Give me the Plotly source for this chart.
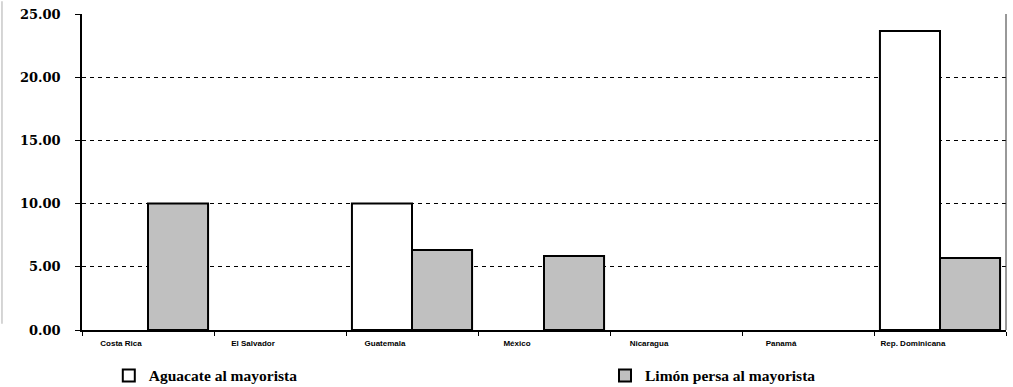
import plotly.graph_objects as go

categories = ["Costa Rica", "El Salvador", "Guatemala", "México", "Nicaragua", "Panamá", "Rep. Dominicana"]
aguacate = [None, None, 10.0, None, None, None, 23.65]
limon = [10.0, None, 6.33, 5.85, None, None, 5.7]
y_ticks = [0, 5, 10, 15, 20, 25]
y_labels = ["0.00", "5.00", "10.00", "15.00", "20.00", "25.00"]

legend_font = dict(family="Liberation Serif", size=15.5, color="black", weight="bold")

fig = go.Figure()
fig.add_trace(go.Bar(x=categories, y=aguacate, name="Aguacate al mayorista",
                     marker=dict(color="white", line=dict(color="black", width=2)),
                     legend="legend"))
fig.add_trace(go.Bar(x=categories, y=limon, name="Limón persa al mayorista",
                     marker=dict(color="#c0c0c0", line=dict(color="black", width=2)),
                     legend="legend2"))

fig.update_layout(
    width=1013, height=387,
    margin=dict(l=82, r=7, t=14, b=57, autoexpand=False),
    paper_bgcolor="white", plot_bgcolor="white",
    barmode="group", bargap=0.09, bargroupgap=0,
    font=dict(family="Liberation Serif", color="black"),
    showlegend=True,
    legend=dict(x=0.029, y=-0.145, xanchor="left", yanchor="middle",
                font=legend_font, itemwidth=30, bgcolor="rgba(0,0,0,0)"),
    legend2=dict(x=0.566, y=-0.145, xanchor="left", yanchor="middle",
                 font=legend_font, itemwidth=30, bgcolor="rgba(0,0,0,0)"),
)
fig.update_xaxes(
    showline=True, linecolor="black", linewidth=2, mirror=False,
    ticks="outside", tickson="boundaries", ticklen=4, tickcolor="black",
    tickfont=dict(family="Liberation Sans Narrow, Liberation Sans", size=8, color="black", weight="bold"),
    ticklabelshift=-27, ticklabelstandoff=4,
    showgrid=False, automargin=False,
)
fig.update_yaxes(
    range=[0, 25], tickvals=y_ticks, ticktext=y_labels,
    showline=True, linecolor="black", linewidth=1.5,
    ticks="outside", ticklen=5, tickcolor="black",
    tickfont=dict(family="DejaVu Serif", size=13, color="black", weight="bold"),
    ticklabelstandoff=12,
    showgrid=True, gridcolor="black", gridwidth=1, griddash="4px,4px",
    zeroline=False, automargin=False,
)
# right border line
fig.add_shape(type="line", xref="paper", yref="paper", x0=1, x1=1, y0=0, y1=1,
              line=dict(color="#333333", width=1))
# faint left frame line
fig.add_shape(type="line", xref="paper", yref="paper", x0=-0.0866, x1=-0.0866, y0=0.02, y1=1.04,
              line=dict(color="#c8c8c8", width=1.5))

fig.write_html("out.html", config={"displayModeBar": False},
               post_script="document.body.style.margin='0';")
